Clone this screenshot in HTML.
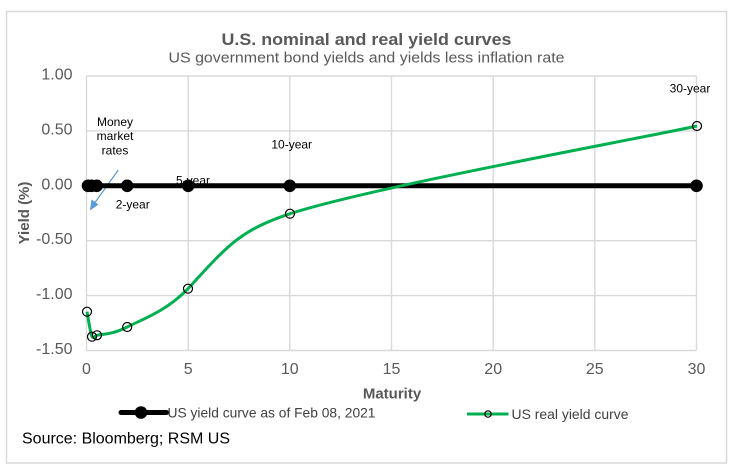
<!DOCTYPE html>
<html><head><meta charset="utf-8"><style>
html,body{margin:0;padding:0;background:#fff;}
svg{display:block;font-family:"Liberation Sans",Arial,sans-serif;}
</style></head><body>
<svg width="736" height="470" viewBox="0 0 736 470" xmlns="http://www.w3.org/2000/svg">
<rect x="0" y="0" width="736" height="470" fill="#fff"/>
<rect x="6.5" y="11.5" width="720" height="451.5" fill="#fff" stroke="#d9d9d9" stroke-width="1.5"/>
<text x="366.5" y="45" text-anchor="middle" font-size="16.5" font-weight="bold" fill="#595959" textLength="290" lengthAdjust="spacingAndGlyphs">U.S. nominal and real yield curves</text>
<text x="366.5" y="62.5" text-anchor="middle" font-size="14.5" fill="#595959" textLength="396" lengthAdjust="spacingAndGlyphs">US government bond yields and yields less inflation rate</text>
<g stroke="#d9d9d9" stroke-width="1.4" fill="none">
<line x1="86.5" y1="76" x2="696.5" y2="76"/>
<line x1="86.5" y1="130.9" x2="696.5" y2="130.9"/>
<line x1="86.5" y1="185.8" x2="696.5" y2="185.8"/>
<line x1="86.5" y1="240.7" x2="696.5" y2="240.7"/>
<line x1="86.5" y1="295.6" x2="696.5" y2="295.6"/>
<line x1="86.5" y1="350.5" x2="696.5" y2="350.5"/>
<line x1="86.5" y1="76" x2="86.5" y2="350.5"/>
<line x1="188.2" y1="76" x2="188.2" y2="350.5"/>
<line x1="289.8" y1="76" x2="289.8" y2="350.5"/>
<line x1="391.5" y1="76" x2="391.5" y2="350.5"/>
<line x1="493.2" y1="76" x2="493.2" y2="350.5"/>
<line x1="594.8" y1="76" x2="594.8" y2="350.5"/>
<line x1="696.5" y1="76" x2="696.5" y2="350.5"/>
</g>
<g font-size="16" fill="#595959" text-anchor="end">
<text x="72.5" y="79.5">1.00</text>
<text x="72.5" y="134.4">0.50</text>
<text x="72.5" y="189.3">0.00</text>
<text x="72.5" y="244.2">-0.50</text>
<text x="72.5" y="299.1">-1.00</text>
<text x="72.5" y="354">-1.50</text>
</g>
<g font-size="16" fill="#595959" text-anchor="middle">
<text x="86.5" y="374">0</text>
<text x="188.2" y="374">5</text>
<text x="289.8" y="374">10</text>
<text x="391.5" y="374">15</text>
<text x="493.2" y="374">20</text>
<text x="594.8" y="374">25</text>
<text x="696.5" y="374">30</text>
</g>
<text x="392" y="398.5" text-anchor="middle" font-size="15" font-weight="bold" fill="#595959">Maturity</text>
<text transform="translate(29,213) rotate(-90)" text-anchor="middle" font-size="15" font-weight="bold" fill="#595959">Yield (%)</text>
<g font-size="12" fill="#000" text-anchor="middle">
<text x="115" y="126">Money</text>
<text x="115" y="140">market</text>
<text x="115" y="154.3">rates</text>
<text x="132.7" y="208.5">2-year</text>
<text x="193" y="184.5">5-year</text>
<text x="291.7" y="148.5">10-year</text>
<text x="690" y="92.5">30-year</text>
</g>
<line x1="118.3" y1="170" x2="95" y2="202.5" stroke="#5b9bd5" stroke-width="1.2"/>
<polygon points="90,210.5 91.5,199.5 98.5,204.5" fill="#5b9bd5"/>
<!-- black series -->
<line x1="88" y1="185.8" x2="697" y2="185.8" stroke="#000" stroke-width="5"/>
<g fill="#000">
<circle cx="88" cy="185.8" r="6.3"/>
<circle cx="91.6" cy="185.8" r="6.3"/>
<circle cx="96.7" cy="185.8" r="6.3"/>
<circle cx="127.2" cy="185.8" r="6.3"/>
<circle cx="188.2" cy="185.8" r="6.3"/>
<circle cx="289.8" cy="185.8" r="6.3"/>
<circle cx="696.5" cy="185.8" r="6.3"/>
</g>
<!-- green series -->
<path d="M87,311.7 C87.8,315.9 90.3,332.8 92,336.7 C93.5,338.5 94.8,336.5 97,335.3 C102.9,333.7 112,334.8 127.2,327 C142.4,319.2 166,311.5 188,288.7 C228,245 240,230.5 290,213.7 C374.8,186.6 629.2,140.6 697,126" fill="none" stroke="#00b050" stroke-width="3"/>
<g fill="none" stroke="#000" stroke-width="1.2">
<circle cx="87" cy="311.7" r="4.5"/>
<circle cx="92" cy="336.7" r="4.5"/>
<circle cx="97" cy="335.3" r="4.5"/>
<circle cx="127.2" cy="327" r="4.5"/>
<circle cx="188" cy="288.7" r="4.5"/>
<circle cx="290" cy="213.7" r="4.5"/>
<circle cx="697" cy="126" r="4.5"/>
</g>
<!-- legend -->
<line x1="121" y1="412.5" x2="166.5" y2="412.5" stroke="#000" stroke-width="5" stroke-linecap="round"/>
<circle cx="141" cy="412.5" r="6.3" fill="#000"/>
<text x="167.5" y="417.5" font-size="14" fill="#404040" textLength="208" lengthAdjust="spacingAndGlyphs">US yield curve as of Feb 08, 2021</text>
<line x1="467" y1="414" x2="508.5" y2="414" stroke="#00b050" stroke-width="3"/>
<circle cx="488" cy="414" r="3.2" fill="none" stroke="#000" stroke-width="1.2"/>
<text x="511.5" y="419" font-size="14" fill="#404040" textLength="117" lengthAdjust="spacingAndGlyphs">US real yield curve</text>
<text x="22" y="443.5" font-size="15.5" fill="#000" textLength="208" lengthAdjust="spacingAndGlyphs">Source: Bloomberg; RSM US</text>
</svg>
</body></html>
